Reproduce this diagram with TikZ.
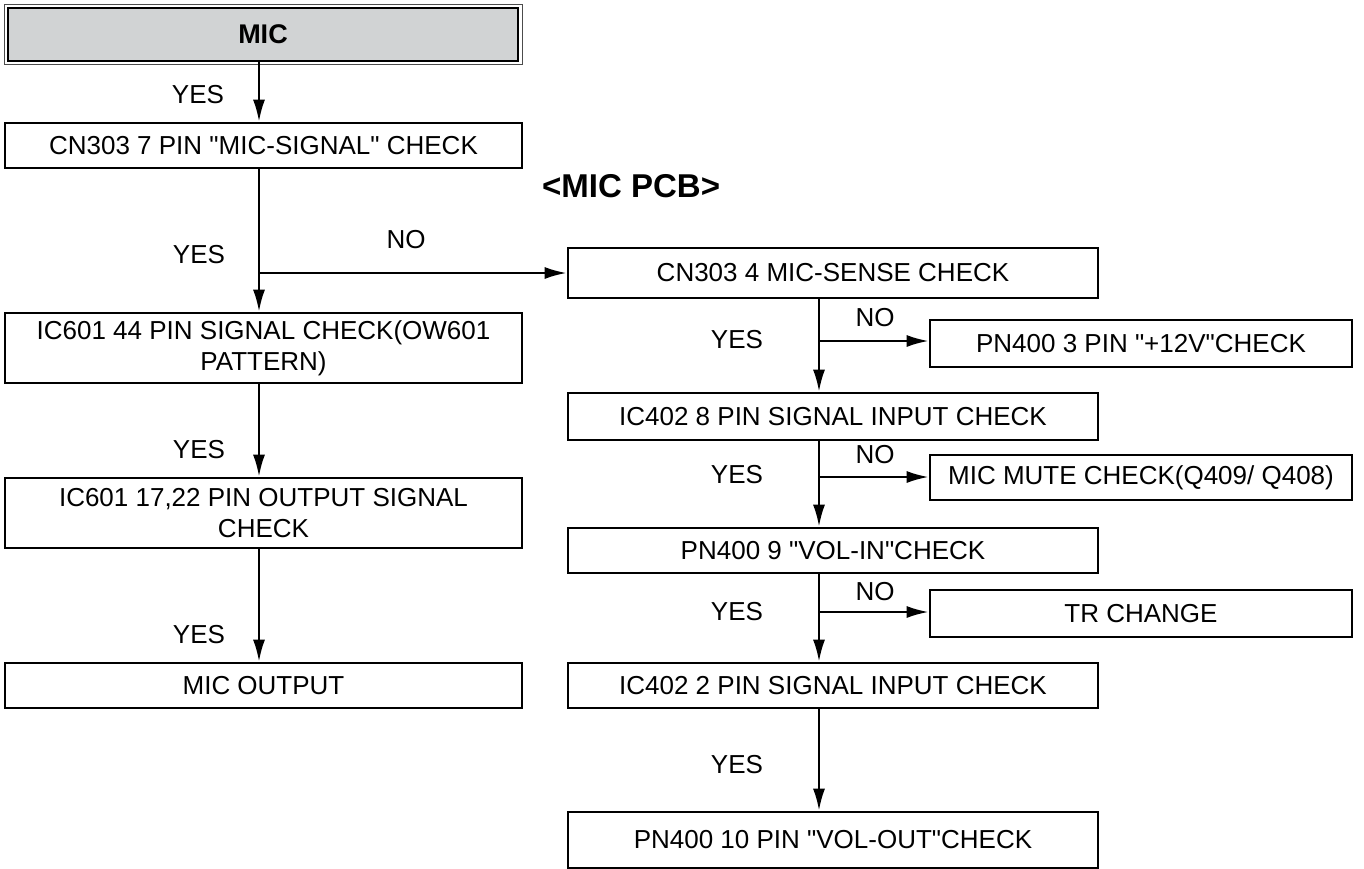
\documentclass[tikz,border=0pt]{standalone}
\usepackage{fontspec}
\setmainfont{Liberation Sans}
\usetikzlibrary{arrows.meta,calc}
\definecolor{micgray}{RGB}{209,211,212}

\begin{document}
\begin{tikzpicture}[x=1pt, y=-1pt, line width=2.4pt,
  box/.style={draw, line width=2.6pt, align=center, inner sep=0pt,
    font=\fontsize{26}{31}\selectfont},
  lbl/.style={font=\fontsize{26}{31}\selectfont},
  arr/.style={-{Latex[length=22pt,width=12pt]}}]
  \useasboundingbox (0,0) rectangle (1364,869);
  \coordinate (lc) at (259,0);
  \coordinate (rc) at (819,0);

  % left column
  \draw[line width=0.8pt, black!70] (4,4) rectangle (522,64);
  \node[box, fill=micgray, minimum width=510pt, minimum height=53pt,
    font=\bfseries\fontsize{27}{31}\selectfont] (mic) at (263,34.5) {MIC};
  \node[box, minimum width=517pt, minimum height=45pt] (cnsig) at (263.5,145.5)
    {CN303 7 PIN \textquotedbl MIC-SIGNAL\textquotedbl{} CHECK};
  \node[box, minimum width=517pt, minimum height=70pt] (ic44) at (263.5,348)
    {IC601 44 PIN SIGNAL CHECK(OW601\\PATTERN)};
  \node[box, minimum width=517pt, minimum height=70pt] (ic17) at (263.5,513)
    {IC601 17,22 PIN OUTPUT SIGNAL\\CHECK};
  \node[box, minimum width=517pt, minimum height=45pt] (micout) at (263.5,685.5)
    {MIC OUTPUT};

  \draw[arr] (mic.south -| lc) -- (cnsig.north -| lc);
  \draw[arr] (cnsig.south -| lc) -- (ic44.north -| lc);
  \draw[arr] (ic44.south -| lc) -- (ic17.north -| lc);
  \draw[arr] (ic17.south -| lc) -- (micout.north -| lc);

  \node[lbl] (y1) at (198,95) {YES};
  \node[lbl] (y2) at (199,255) {YES};
  \node[lbl] (n1) at (406,240) {NO};
  \node[lbl] (y3) at (199,450) {YES};
  \node[lbl] (y4) at (199,635) {YES};

  % right column
  \node[anchor=west, inner sep=0pt, font=\bfseries\fontsize{33}{36}\selectfont] (pcb) at (541,186) {<MIC PCB>};
  \node[box, minimum width=530pt, minimum height=50pt] (mse) at (833,273)
    {CN303 4 MIC-SENSE CHECK};
  \node[box, minimum width=530pt, minimum height=47pt] (ic8) at (833,416.5)
    {IC402 8 PIN SIGNAL INPUT CHECK};
  \node[box, minimum width=530pt, minimum height=45pt] (vin) at (833,550.5)
    {PN400 9 \textquotedbl VOL-IN\textquotedbl CHECK};
  \node[box, minimum width=530pt, minimum height=45pt] (ic2) at (833,685.5)
    {IC402 2 PIN SIGNAL INPUT CHECK};
  \node[box, minimum width=530pt, minimum height=56pt] (vout) at (833,840)
    {PN400 10 PIN \textquotedbl VOL-OUT\textquotedbl CHECK};

  \node[box, minimum width=422pt, minimum height=47pt] (p12) at (1141,343.5)
    {PN400 3 PIN \textquotedbl +12V\textquotedbl CHECK};
  \node[box, minimum width=422pt, minimum height=45pt] (mute) at (1141,477.5)
    {MIC MUTE CHECK(Q409/ Q408)};
  \node[box, minimum width=422pt, minimum height=47pt] (trc) at (1141,613.5)
    {TR CHANGE};

  \coordinate (b0) at (259,273);
  \coordinate (b1) at (819,341);
  \coordinate (b2) at (819,477);
  \coordinate (b3) at (819,612);

  \draw[arr] (b0) -- (mse.west);
  \draw[arr] (mse.south -| rc) -- (ic8.north -| rc);
  \draw[arr] (ic8.south -| rc) -- (vin.north -| rc);
  \draw[arr] (vin.south -| rc) -- (ic2.north -| rc);
  \draw[arr] (ic2.south -| rc) -- (vout.north -| rc);
  \draw[arr] (b1) -- (p12.west |- b1);
  \draw[arr] (b2) -- (mute.west |- b2);
  \draw[arr] (b3) -- (trc.west |- b3);

  \node[lbl] (y5) at (737,340) {YES};
  \node[lbl] (n2) at (875,318) {NO};
  \node[lbl] (y6) at (737,475) {YES};
  \node[lbl] (n3) at (875,455) {NO};
  \node[lbl] (y7) at (737,612) {YES};
  \node[lbl] (n4) at (875,592) {NO};
  \node[lbl] (y8) at (737,765) {YES};
\end{tikzpicture}
\end{document}
